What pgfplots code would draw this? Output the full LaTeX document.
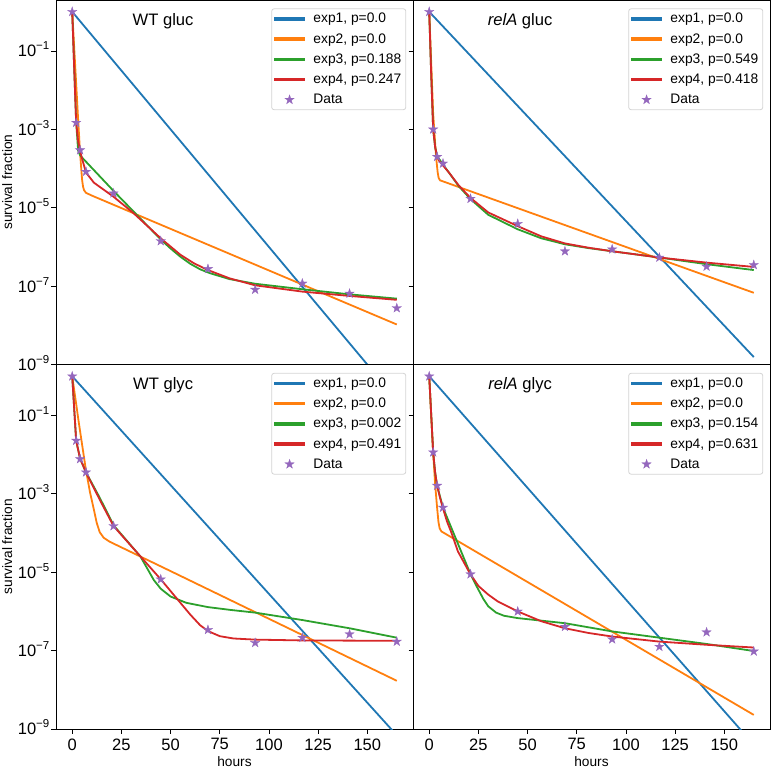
\documentclass[border=0pt]{standalone}
\usepackage{fontspec}
\setmainfont{Liberation Sans}
\usepackage{pgfplots}
\pgfplotsset{compat=1.18}
\usepgfplotslibrary{groupplots}
\usetikzlibrary{calc}

\definecolor{cblue}{HTML}{1F77B4}
\definecolor{corange}{HTML}{FF7F0E}
\definecolor{cgreen}{HTML}{2CA02C}
\definecolor{cred}{HTML}{D62728}
\definecolor{cpurple}{HTML}{9467BD}
\definecolor{legframe}{HTML}{D4D4D4}

\pgfdeclareplotmark{fstar}{%
 \pgfpathmoveto{\pgfqpointpolar{90}{\pgfplotmarksize}}%
 \pgfpathlineto{\pgfqpointpolar{126}{0.382\pgfplotmarksize}}%
 \pgfpathlineto{\pgfqpointpolar{162}{\pgfplotmarksize}}%
 \pgfpathlineto{\pgfqpointpolar{198}{0.382\pgfplotmarksize}}%
 \pgfpathlineto{\pgfqpointpolar{234}{\pgfplotmarksize}}%
 \pgfpathlineto{\pgfqpointpolar{270}{0.382\pgfplotmarksize}}%
 \pgfpathlineto{\pgfqpointpolar{306}{\pgfplotmarksize}}%
 \pgfpathlineto{\pgfqpointpolar{342}{0.382\pgfplotmarksize}}%
 \pgfpathlineto{\pgfqpointpolar{18}{\pgfplotmarksize}}%
 \pgfpathlineto{\pgfqpointpolar{54}{0.382\pgfplotmarksize}}%
 \pgfpathclose
 \pgfusepathqfillstroke}

\newcommand{\tk}[1]{10\raisebox{0.42em}{\fontsize{11.5}{12}\selectfont −#1}}

\pgfplotsset{
 lineleg/.style={legend image code/.code={\fill[#1, sharp corners] (0pt,-0.8pt) rectangle (29pt,0.8pt);}},
 markleg/.style={legend image code/.code={\draw[mark repeat=2,mark phase=2,##1] plot coordinates {(0pt,0pt) (14.5pt,0pt) (29pt,0pt)};}},
 e1/.style={cblue, line width=1.8pt, no marks, lineleg=cblue},
 e2/.style={corange, line width=1.8pt, no marks, lineleg=corange},
 e3/.style={cgreen, line width=1.8pt, no marks, lineleg=cgreen},
 e4/.style={cred, line width=1.8pt, no marks, lineleg=cred},
 dat/.style={only marks, mark=fstar, mark size=4.9pt, color=cpurple, mark options={fill=cpurple, draw=cpurple, line width=0.3pt}, markleg},
}

\begin{document}
\begin{tikzpicture}
\begin{groupplot}[
 group style={group size=2 by 2, horizontal sep=0pt, vertical sep=0pt,
   x descriptions at=edge bottom, y descriptions at=edge left},
 scale only axis, width=357pt, height=364.5pt,
 ymode=log, ymin=1e-9, ymax=2, xmin=-8.25, xmax=173.25,
 ytick={1e-9,1e-7,1e-5,1e-3,1e-1},
 yticklabels={\tk{9},\tk{7},\tk{5},\tk{3},\tk{1}},
 yminorticks=false,
 xtick={0,25,50,75,100,125,150},
 xticklabels={0,25,50,75,100,125,150},
 tick align=outside, tick pos=left, major tick length=4.5pt,
 every tick/.style={black, line width=0.8pt},
 axis line style={black, line width=0.8pt},
 xticklabel style={font=\fontsize{16.5}{18}\selectfont, anchor=north, inner sep=0pt, yshift=-4.8pt},
 yticklabel style={font=\fontsize{16.5}{18}\selectfont, anchor=base east, inner sep=0pt, yshift=-5.9pt, xshift=-2pt},
 every axis y label/.style={at={(axis description cs:0,0.5)}, xshift=-48.8pt, rotate=90, anchor=center, font=\fontsize{13.7}{15}\selectfont},
 every axis x label/.style={at={(axis description cs:0.5,0)}, anchor=center, yshift=-32.6pt, font=\fontsize{13.7}{15}\selectfont},
 ylabel={survival fraction}, xlabel={hours},
 legend cell align=left,
 legend style={at={(0.981,0.977)}, anchor=north east, draw=legframe, line width=0.8pt, rounded corners=2.5pt,
   fill=white,
   font=\fontsize{13.8}{15}\selectfont, inner xsep=2.5pt, inner ysep=2.5pt,
   nodes={inner sep=2pt}, row sep=5.1pt,
   /tikz/every odd column/.append style={column sep=6.5pt}},
]
% ---------- WT gluc
\nextgroupplot[xmajorticks=false]
\addplot[e1] coordinates {(0,1) (165,1.26e-10)};
\addlegendentry{exp1, p=0.0}
\addplot[e2] coordinates {(0,1) (3,1.78e-3) (4,2.45e-4) (5,5.25e-5) (5.5,3.47e-5) (6,2.82e-5) (7,2.40e-5) (10,2.04e-5) (165,1.05e-8)};
\addlegendentry{exp2, p=0.0}
\addplot[e3] coordinates {(0,1) (1,3.72e-2) (2,1.58e-3) (3,2.88e-4) (4,2.19e-4) (5,1.91e-4) (21,2.69e-5) (45,1.55e-6) (50,9.12e-7) (55,5.62e-7) (60,3.72e-7) (65,2.69e-7) (70,2.14e-7) (80,1.51e-7) (93,1.15e-7) (117,8.32e-8) (141,6.17e-8) (165,4.79e-8)};
\addlegendentry{exp3, p=0.188}
\addplot[e4] coordinates {(0,1) (1,3.55e-2) (2,1.48e-3) (3,5.01e-4) (4,2.82e-4) (5,1.78e-4) (7,7.94e-5) (11,4.37e-5) (21,1.91e-5) (31,7.41e-6) (45,1.66e-6) (55,6.31e-7) (62,3.80e-7) (69,2.57e-7) (80,1.58e-7) (93,1.05e-7) (117,7.24e-8) (141,5.62e-8) (165,4.47e-8)};
\addlegendentry{exp4, p=0.247}
\addplot[dat] coordinates {(0,1) (2,1.48e-3) (4,2.95e-4) (7,8.32e-5) (21,2.34e-5) (45,1.41e-6) (69,2.75e-7) (93,8.13e-8) (117,1.17e-7) (141,6.46e-8) (165,2.75e-8)};
\addlegendentry{Data}
\node[anchor=base, font=\fontsize{16.6}{18}\selectfont] at (axis description cs:0.3,0.931) {WT gluc};
% ---------- relA gluc
\nextgroupplot[xmajorticks=false]
\addplot[e1] coordinates {(0,1) (165,1.55e-9)};
\addlegendentry{exp1, p=0.0}
\addplot[e2] coordinates {(0,1) (1,5.01e-2) (2,2.51e-3) (3,4.47e-4) (3.6,1.74e-4) (4.3,7.94e-5) (4.8,5.75e-5) (5.5,5.01e-5) (165,6.76e-8)};
\addlegendentry{exp2, p=0.0}
\addplot[e3] coordinates {(0,1) (1,2.51e-2) (2,1e-3) (3,3.55e-4) (4,2.09e-4) (7,1.26e-4) (10,7.94e-5) (15,3.55e-5) (21,1.66e-5) (30,6.61e-6) (45,2.82e-6) (57,1.66e-6) (69,1.17e-6) (81,9.33e-7) (93,7.76e-7) (117,5.37e-7) (141,3.63e-7) (165,2.57e-7)};
\addlegendentry{exp3, p=0.549}
\addplot[e4] coordinates {(0,1) (1,2.51e-2) (2,1e-3) (3,3.55e-4) (4,2.0e-4) (5,1.58e-4) (7,1.20e-4) (10,7.94e-5) (15,3.72e-5) (21,1.78e-5) (30,7.59e-6) (45,3.39e-6) (57,1.86e-6) (69,1.23e-6) (81,9.55e-7) (93,7.76e-7) (117,5.37e-7) (141,3.98e-7) (165,3.09e-7)};
\addlegendentry{exp4, p=0.418}
\addplot[dat] coordinates {(0,1) (2,1.0e-3) (4,2.0e-4) (7,1.35e-4) (21,1.70e-5) (45,3.89e-6) (69,7.76e-7) (93,8.71e-7) (117,5.37e-7) (141,3.16e-7) (165,3.47e-7)};
\addlegendentry{Data}
\node[anchor=base, font=\fontsize{16.6}{18}\selectfont] at (axis description cs:0.3,0.931) {\textit{relA} gluc};
% ---------- WT glyc
\nextgroupplot
\addplot[e1] coordinates {(0,1) (165,6.92e-10)};
\addlegendentry{exp1, p=0.0}
\addplot[e2] coordinates {(0,1) (3.4,6.31e-2) (6.8,4.57e-3) (9,1.12e-3) (11,3.98e-4) (12.5,1.78e-4) (14,1.05e-4) (16,7.59e-5) (19,6.03e-5) (50,1.07e-5) (165,1.70e-8)};
\addlegendentry{exp2, p=0.0}
\addplot[e3] coordinates {(0,1) (1,0.151) (2,2.29e-2) (4,7.94e-3) (7,3.55e-3) (14,7.94e-4) (21,1.58e-4) (27,7.08e-5) (34.7,2.51e-5) (41.5,6.31e-6) (45,3.80e-6) (50,2.40e-6) (58,1.66e-6) (69,1.29e-6) (80,1.10e-6) (93,9.33e-7) (117,6.03e-7) (141,3.72e-7) (165,2.14e-7)};
\addlegendentry{exp3, p=0.002}
\addplot[e4] coordinates {(0,1) (1,0.151) (2,2.29e-2) (4,7.94e-3) (7,3.55e-3) (14,7.08e-4) (21,1.51e-4) (33,3.16e-5) (45,6.61e-6) (50,3.31e-6) (55,1.66e-6) (60,8.32e-7) (65,4.47e-7) (69,3.16e-7) (75,2.34e-7) (82,2.04e-7) (93,1.91e-7) (117,1.82e-7) (141,1.80e-7) (165,1.78e-7)};
\addlegendentry{exp4, p=0.491}
\addplot[dat] coordinates {(0,1) (2,2.29e-2) (4,7.76e-3) (7,3.55e-3) (21,1.51e-4) (45,6.61e-6) (69,3.39e-7) (93,1.58e-7) (117,2.14e-7) (141,2.63e-7) (165,1.70e-7)};
\addlegendentry{Data}
\node[anchor=base, font=\fontsize{16.6}{18}\selectfont] at (axis description cs:0.3,0.931) {WT glyc};
% ---------- relA glyc
\nextgroupplot
\addplot[e1] coordinates {(0,1) (165,3.98e-10)};
\addlegendentry{exp1, p=0.0}
\addplot[e2] coordinates {(0,1) (1,0.1) (2,1.12e-2) (3,1.78e-3) (4,4.47e-4) (4.7,1.91e-4) (5.3,1.32e-4) (6.2,1.10e-4) (165,2.29e-9)};
\addlegendentry{exp2, p=0.0}
\addplot[e3] coordinates {(0,1) (1,0.107) (2,1.15e-2) (3,3.55e-3) (4,1.62e-3) (7,4.47e-4) (21,8.91e-6) (24,4.47e-6) (27.5,2.09e-6) (30,1.35e-6) (34,9.33e-7) (38,7.76e-7) (45,6.76e-7) (69,5.01e-7) (93,3.09e-7) (117,2.14e-7) (141,1.48e-7) (165,9.77e-8)};
\addlegendentry{exp3, p=0.154}
\addplot[e4] coordinates {(0,1) (1,0.107) (2,1.15e-2) (3,3.55e-3) (4,1.62e-3) (5.5,7.94e-4) (7,4.27e-4) (9,2.0e-4) (11.2,1.05e-4) (14.6,3.39e-5) (20.7,9.33e-6) (25,4.47e-6) (30,2.69e-6) (35,1.78e-6) (45,1.0e-6) (57,5.62e-7) (69,3.72e-7) (81,2.82e-7) (93,2.29e-7) (117,1.70e-7) (141,1.41e-7) (165,1.20e-7)};
\addlegendentry{exp4, p=0.631}
\addplot[dat] coordinates {(0,1) (2,1.15e-2) (4,1.62e-3) (7,4.47e-4) (21,8.91e-6) (45,1.0e-6) (69,4.07e-7) (93,1.95e-7) (117,1.26e-7) (141,2.95e-7) (165,9.55e-8)};
\addlegendentry{Data}
\node[anchor=base, font=\fontsize{16.6}{18}\selectfont] at (axis description cs:0.3,0.931) {\textit{relA} glyc};
\end{groupplot}
\pgfresetboundingbox
\path[use as bounding box] ($(group c1r1.north west)+(-56pt,0pt)$) rectangle ($(group c2r2.south east)+(1pt,-39pt)$);
\end{tikzpicture}
\end{document}
